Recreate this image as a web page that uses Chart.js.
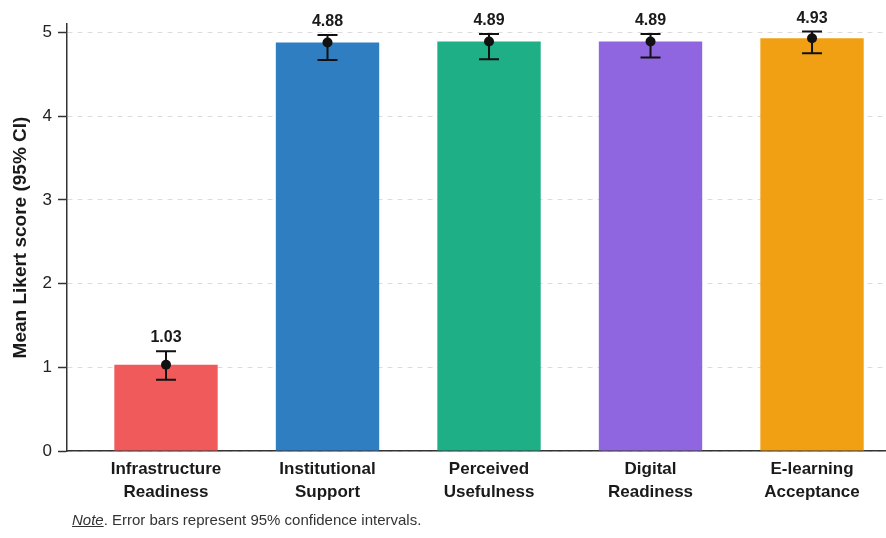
<!DOCTYPE html>
<html>
<head>
<meta charset="utf-8">
<script src="https://cdn.jsdelivr.net/npm/chart.js@4/dist/chart.umd.min.js"></script>
<style>
  html, body { margin: 0; padding: 0; background: #fff; }
  #wrap { position: relative; width: 886px; height: 538px; }
  #note {
    position: absolute; left: 72px; top: 511px;
    font-family: 'Liberation Sans', Arial, sans-serif;
    font-size: 15px; line-height: 18px; color: #333;
  }
  #note i { text-decoration: underline; }
</style>
</head>
<body>
<div id="wrap">
  <canvas id="likertChart" width="886" height="538"></canvas>
  <div id="note"><i>Note</i>. Error bars represent 95% confidence intervals.</div>
</div>
<script>
const categories = [
  ['Infrastructure', 'Readiness'],
  ['Institutional', 'Support'],
  ['Perceived', 'Usefulness'],
  ['Digital', 'Readiness'],
  ['E-learning', 'Acceptance']
];
const means = [1.03, 4.88, 4.89, 4.89, 4.93];
const ciLow = [0.85, 4.67, 4.68, 4.70, 4.75];
const ciHigh = [1.19, 4.97, 4.98, 4.98, 5.01];
const barColors = ['#F05A5A', '#2E7EC1', '#1FAF86', '#9066E0', '#F0A012'];
const yTicks = [0, 1, 2, 3, 4, 5];

const points = means.map((m, i) => ({ x: i, y: m }));

// whiskers, caps and the value text above each bar
const errorBars = {
  id: 'errorBars',
  afterDatasetDraw(chart, args) {
    if (args.index !== 0) return;
    const { ctx, scales: { x, y } } = chart;
    ctx.save();
    ctx.strokeStyle = '#111';
    ctx.lineWidth = 2;
    ctx.fillStyle = '#1a1a1a';
    ctx.font = 'bold 16px "Liberation Sans", Arial, sans-serif';
    ctx.textAlign = 'center';
    ctx.textBaseline = 'alphabetic';
    means.forEach((m, i) => {
      const px = x.getPixelForValue(i);
      const top = y.getPixelForValue(ciHigh[i]);
      const bot = y.getPixelForValue(ciLow[i]);
      ctx.beginPath();
      ctx.moveTo(px, top); ctx.lineTo(px, bot);
      ctx.moveTo(px - 10, top); ctx.lineTo(px + 10, top);
      ctx.moveTo(px - 10, bot); ctx.lineTo(px + 10, bot);
      ctx.stroke();
      ctx.fillText(m.toFixed(2), px, top - 9);
    });
    ctx.restore();
  }
};

Chart.defaults.font.family = "'Liberation Sans', Arial, sans-serif";
Chart.defaults.color = '#222';

const ctx = document.getElementById('likertChart').getContext('2d');
new Chart(ctx, {
  type: 'bar',
  data: {
    datasets: [{
      data: points,
      backgroundColor: barColors,
      borderWidth: 0,
      barPercentage: 0.64,
      categoryPercentage: 1,
      order: 1
    }, {
      type: 'line',
      data: points,
      showLine: false,
      pointRadius: 5,
      pointBackgroundColor: '#111',
      pointBorderColor: '#111',
      pointBorderWidth: 0,
      clip: false,
      order: -1
    }]
  },
  options: {
    responsive: false,
    animation: false,
    layout: { autoPadding: false, padding: { top: 24, right: 0, bottom: 0, left: 0 } },
    plugins: {
      legend: { display: false },
      tooltip: { enabled: false }
    },
    scales: {
      x: {
        type: 'linear',
        offset: false,
        min: -0.613,
        max: 4.458,
        grid: { display: false, drawTicks: false, offset: false },
        border: { display: true, color: '#333', width: 1.5 },
        ticks: {
          stepSize: 1,
          includeBounds: false,
          autoSkip: false,
          maxRotation: 0,
          padding: 7,
          color: '#1a1a1a',
          font: { size: 17, weight: 'bold', lineHeight: 1.35 },
          callback: v => Number.isInteger(v) ? categories[v] : ''
        },
        afterFit(scale) {
          scale.height = 87;
          scale.paddingLeft = 0;
          scale.paddingRight = 0;
        }
      },
      y: {
        min: 0,
        max: 5.1,
        afterBuildTicks(scale) {
          scale.ticks = yTicks.map(v => ({ value: v }));
        },
        grid: {
          color: '#dcdcdc',
          lineWidth: 1,
          tickColor: '#333',
          tickLength: 9,
          tickWidth: 1.5
        },
        border: { display: true, color: '#333', width: 1.5, dash: [5, 5] },
        ticks: {
          padding: 6,
          color: '#222',
          font: { size: 17 }
        },
        title: {
          display: true,
          text: 'Mean Likert score (95% CI)',
          color: '#1a1a1a',
          font: { size: 19, weight: 'bold' },
          padding: { top: 9, bottom: 0 }
        },
        afterFit(scale) {
          scale.width = 67;
          scale.paddingTop = 0;
          scale.paddingBottom = 0;
        }
      }
    }
  },
  plugins: [errorBars]
});
</script>
</body>
</html>
